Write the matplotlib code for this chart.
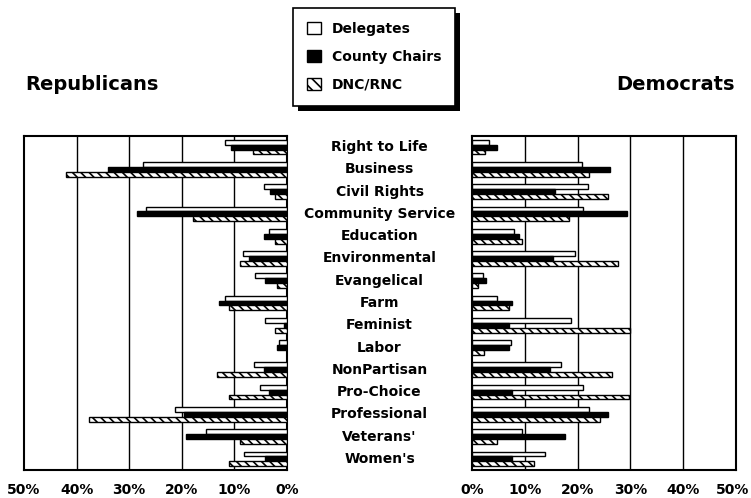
import matplotlib
matplotlib.use("Agg")
import matplotlib.pyplot as plt
import matplotlib.patheffects as pe
from matplotlib.patches import Patch
import matplotlib.transforms as mtransforms
import numpy as np

plt.rcParams['font.family'] = ['DejaVu Sans']
plt.rcParams['hatch.linewidth'] = 1.2

categories = ["Right to Life", "Business", "Civil Rights", "Community Service",
              "Education", "Environmental", "Evangelical", "Farm", "Feminist",
              "Labor", "NonPartisan", "Pro-Choice", "Professional", "Veterans'",
              "Women's"]

rep_delegates = [11.7, 27.4, 4.4, 26.8, 3.5, 8.4, 6.0, 11.7, 4.1, 1.5, 6.2, 5.2, 21.2, 15.4, 8.2]
rep_chairs    = [10.6, 34.1, 3.2, 28.6, 4.4, 7.3, 4.1, 12.9, 0.5, 1.9, 4.4, 3.5, 19.5, 19.2, 4.1]
rep_dncrnc    = [6.5, 42.1, 2.2, 17.8, 2.2, 8.9, 1.9, 11.1, 2.2, 0.0, 13.3, 11.1, 37.7, 8.9, 11.1]

dem_delegates = [3.3, 20.8, 21.9, 21.1, 7.9, 19.5, 2.0, 4.7, 18.8, 7.3, 16.9, 21.1, 22.2, 9.4, 13.8]
dem_chairs    = [4.8, 26.1, 15.7, 29.3, 8.9, 15.3, 2.6, 7.5, 7.1, 7.1, 14.7, 7.5, 25.7, 17.7, 7.5]
dem_dncrnc    = [2.4, 22.2, 25.7, 18.4, 9.4, 27.7, 1.1, 7.1, 29.9, 2.3, 26.6, 29.8, 24.3, 4.8, 11.7]

series_names = ["Delegates", "County Chairs", "DNC/RNC"]
ticks = [0, 10, 20, 30, 40, 50]
tick_labels = ["0%", "10%", "20%", "30%", "40%", "50%"]

W, H = 751, 498
fig = plt.figure(figsize=(W / 100, H / 100), dpi=100)

top, bottom = 136, 470
axL = fig.add_axes([24 / W, 1 - bottom / H, (287 - 24) / W, (bottom - top) / H])
axR = fig.add_axes([472 / W, 1 - bottom / H, (736 - 472) / W, (bottom - top) / H])

y = np.arange(len(categories))
bh = 0.22
offsets = [-0.22, 0.0, 0.22]
styles = [dict(color="white", hatch=None),
          dict(color="black", hatch=None),
          dict(color="white", hatch="\\\\\\\\")]

for ax, data in [(axL, [rep_delegates, rep_chairs, rep_dncrnc]),
                 (axR, [dem_delegates, dem_chairs, dem_dncrnc])]:
    for vals, off, st, name in zip(data, offsets, styles, series_names):
        ax.barh(y + off, vals, height=bh, color=st["color"], hatch=st["hatch"],
                edgecolor="black", linewidth=1.0, zorder=3, label=name)
    ax.set_xlim(0, 50)
    ax.set_ylim(len(categories) - 0.5, -0.5)
    ax.set_yticks([])
    ax.set_xticks(ticks)
    ax.set_xticklabels(tick_labels, fontsize=10, fontweight="bold")
    ax.tick_params(axis="x", length=0, pad=9)
    for t in [10, 20, 30, 40]:
        ax.axvline(t, color="black", linewidth=1.0, zorder=1)
    for s in ax.spines.values():
        s.set_linewidth(1.5)

axL.invert_xaxis()

# keep the right-most "50%" inside the canvas
last = axR.get_xticklabels()[-1]
last.set_transform(last.get_transform() +
                   mtransforms.ScaledTranslation(-3 / 100, 0, fig.dpi_scale_trans))

# category labels in the middle
trans = mtransforms.blended_transform_factory(fig.transFigure, axL.transData)
for yi, cat in zip(y, categories):
    fig.text(379.5 / W, yi, cat, transform=trans, ha="center", va="center",
             fontsize=10, fontweight="bold")

fig.text(25 / W, 1 - 84 / H, "Republicans", ha="left", va="center",
         fontsize=14, fontweight="bold")
fig.text(735 / W, 1 - 84 / H, "Democrats", ha="right", va="center",
         fontsize=14, fontweight="bold")

handles = [Patch(facecolor="white", edgecolor="black", linewidth=1.0),
           Patch(facecolor="black", edgecolor="black", linewidth=1.0),
           Patch(facecolor="white", edgecolor="black", hatch="\\\\\\", linewidth=1.0)]
leg = fig.legend(handles, series_names, loc="upper left",
                 bbox_to_anchor=(293 / W, 1 - 8 / H), borderaxespad=0,
                 frameon=True, fancybox=False, framealpha=1,
                 edgecolor="black", prop=dict(size=10, weight="bold"),
                 handlelength=1.0, handleheight=1.0, handletextpad=0.8,
                 labelspacing=1.0, borderpad=1.0)
leg.get_frame().set_linewidth(1.2)
leg.get_frame().set_path_effects([
    pe.SimplePatchShadow(offset=(3.6, -3.6), shadow_rgbFace="black", alpha=1),
    pe.Normal()])

fig.savefig("out.png", dpi=100)
